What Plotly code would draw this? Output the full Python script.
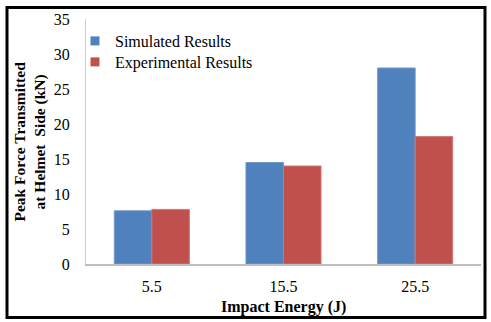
import plotly.graph_objects as go

categories = ["5.5", "15.5", "25.5"]
simulated = [7.6, 14.5, 28.0]
experimental = [7.8, 14.0, 18.2]
y_ticks = [0, 5, 10, 15, 20, 25, 30, 35]
series_names = ["Simulated Results", "Experimental Results"]
series_colors = ["#4F81BD", "#C0504D"]
edge_colors = ["#7396CB", "#CF7775"]

W, H = 491, 322
L, R, T, B = 86, 10, 19, 58
pw, ph = W - L - R, H - T - B

def px_x(p):
    return (p - L) / pw

def px_y(p):
    return (H - B - p) / ph

serif = "Liberation Serif, Times New Roman, serif"

fig = go.Figure()
for name, vals, col, edge in zip(series_names, [simulated, experimental], series_colors, edge_colors):
    fig.add_trace(go.Bar(name=name, x=categories, y=vals, showlegend=False,
                         marker=dict(color=col, line=dict(color=edge, width=1))))
for name, col, lg in zip(series_names, series_colors, ["legend", "legend2"]):
    fig.add_trace(go.Scatter(name=name, x=[None], y=[None], mode="markers", legend=lg,
                             marker=dict(symbol="square", size=9, color=col)))

legend_style = dict(xanchor="left", yanchor="top", bgcolor="rgba(0,0,0,0)",
                    font=dict(size=16, family=serif), itemclick=False)
fig.update_layout(
    width=W, height=H,
    margin=dict(l=L, r=R, t=T, b=B),
    paper_bgcolor="white", plot_bgcolor="white",
    barmode="group", bargap=0.43, bargroupgap=0,
    font=dict(family=serif, size=16, color="black"),
    legend=dict(x=px_x(75), y=px_y(24), **legend_style),
    legend2=dict(x=px_x(75), y=px_y(45), **legend_style),
    showlegend=True,
)
fig.update_xaxes(showgrid=False, showline=True, linecolor="#BFBFBF", linewidth=2,
                 ticks="", tickfont=dict(size=16, family=serif), ticklabelstandoff=7)
fig.update_yaxes(range=[0, 35], tickvals=y_ticks, showgrid=False, showline=True,
                 linecolor="#D0D0D0", linewidth=1, ticks="", zeroline=False,
                 tickfont=dict(size=16, family=serif), ticklabelstandoff=12)

fig.add_annotation(text="<b>Peak Force Transmitted<br>at Helmet  Side (kN)</b>",
                   xref="paper", yref="paper", x=px_x(29), y=0.5, textangle=-90,
                   xanchor="center", yanchor="middle", showarrow=False,
                   font=dict(size=15.5, family=serif))
fig.add_annotation(text="<b>Impact Energy (J)</b>", xref="paper", yref="paper",
                   x=0.5, y=px_y(307), xanchor="center", yanchor="middle",
                   showarrow=False, font=dict(size=16, family=serif))

fig.add_shape(type="rect", xref="paper", yref="paper",
              x0=px_x(7), x1=px_x(485), y0=px_y(317.5), y1=px_y(7.5),
              line=dict(color="black", width=3), fillcolor="rgba(0,0,0,0)")

fig.write_html("out.html", config={"displayModeBar": False},
               post_script="document.body.style.margin='0';document.body.style.padding='0';")
